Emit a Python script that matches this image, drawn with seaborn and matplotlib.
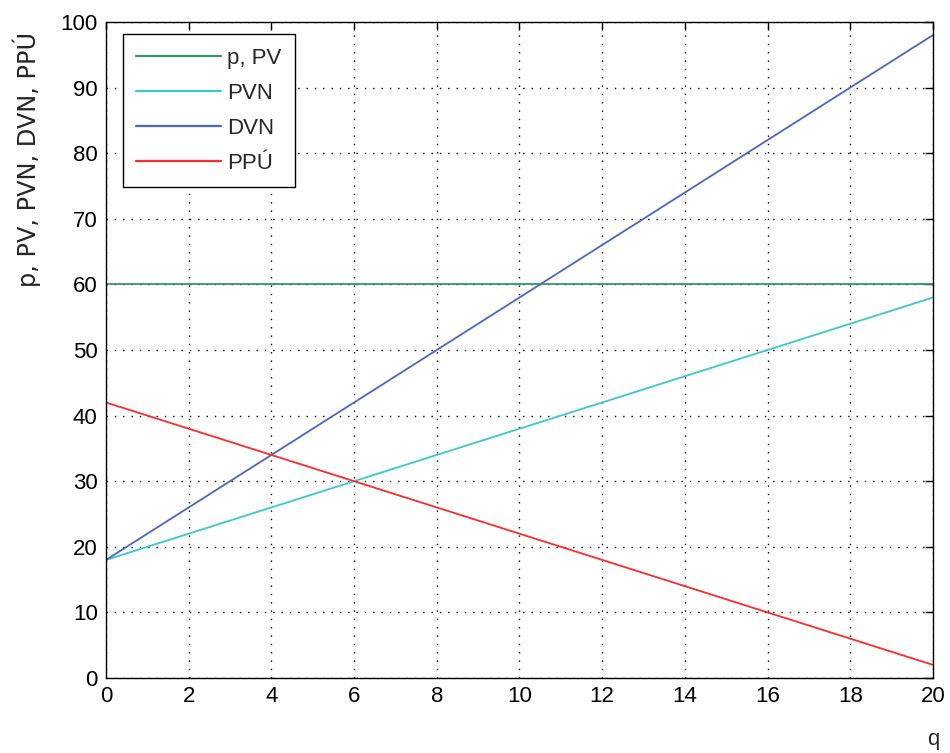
import matplotlib
matplotlib.use("Agg")
import matplotlib.pyplot as plt
import seaborn as sns
import pandas as pd

q = [0, 1, 2, 3, 4, 5, 6, 7, 8, 9, 10, 11, 12, 13, 14, 15, 16, 17, 18, 19, 20]
p_pv = [60, 60, 60, 60, 60, 60, 60, 60, 60, 60, 60, 60, 60, 60, 60, 60, 60, 60, 60, 60, 60]
pvn = [18, 20, 22, 24, 26, 28, 30, 32, 34, 36, 38, 40, 42, 44, 46, 48, 50, 52, 54, 56, 58]
dvn = [18, 22, 26, 30, 34, 38, 42, 46, 50, 54, 58, 62, 66, 70, 74, 78, 82, 86, 90, 94, 98]
ppu = [42, 40, 38, 36, 34, 32, 30, 28, 26, 24, 22, 20, 18, 16, 14, 12, 10, 8, 6, 4, 2]

series_names = ["p, PV", "PVN", "DVN", "PPÚ"]
colors = ["#339966", "#3cc8c8", "#4a66c0", "#ff2a2a"]

df = pd.DataFrame({"q": q, "p, PV": p_pv, "PVN": pvn, "DVN": dvn, "PPÚ": ppu})
long = df.melt(id_vars="q", var_name="series", value_name="value")

sns.set_style("white")
plt.rcParams["font.family"] = ["Liberation Sans", "DejaVu Sans"]

FS = 16
fig = plt.figure(figsize=(9.5, 7.53), dpi=100)
ax = fig.add_axes([0.1116, 0.0996, 0.8704, 0.8712])

sns.lineplot(data=long, x="q", y="value", hue="series", hue_order=series_names,
             palette=colors, ax=ax, linewidth=1.3)

ax.set_xlim(0, 20)
ax.set_ylim(0, 100)
ax.set_xticks(range(0, 21, 2))
ax.set_yticks(range(0, 101, 10))
ax.grid(True, color="black", linestyle=(0, (1, 5)), linewidth=1.0)
for s in ax.spines.values():
    s.set_color("black")
    s.set_linewidth(1.0)
    s.set_visible(True)
ax.tick_params(direction="in", length=6, width=1, colors="black", labelsize=FS,
               top=True, right=True, pad=6)
ax.set_xlabel("")
ax.set_ylabel("p, PV, PVN, DVN, PPÚ", fontsize=17.3, family=["DejaVu Sans"],
              va="center", ha="center")
ax.yaxis.set_label_coords(-0.0955, 0.79)
ax.text(20, -9.3, "q", ha="center", va="center", fontsize=FS)

leg = ax.legend(loc="upper left", bbox_to_anchor=(0.0205, 0.981), fontsize=FS,
                frameon=True, fancybox=False, edgecolor="black", framealpha=1,
                borderpad=0.6, handlelength=3.8, handletextpad=0.3, labelspacing=0.63,
                borderaxespad=0)
leg.get_frame().set_linewidth(1.0)
for line in leg.get_lines():
    line.set_linewidth(1.6)

fig.savefig("out.png", dpi=100)
